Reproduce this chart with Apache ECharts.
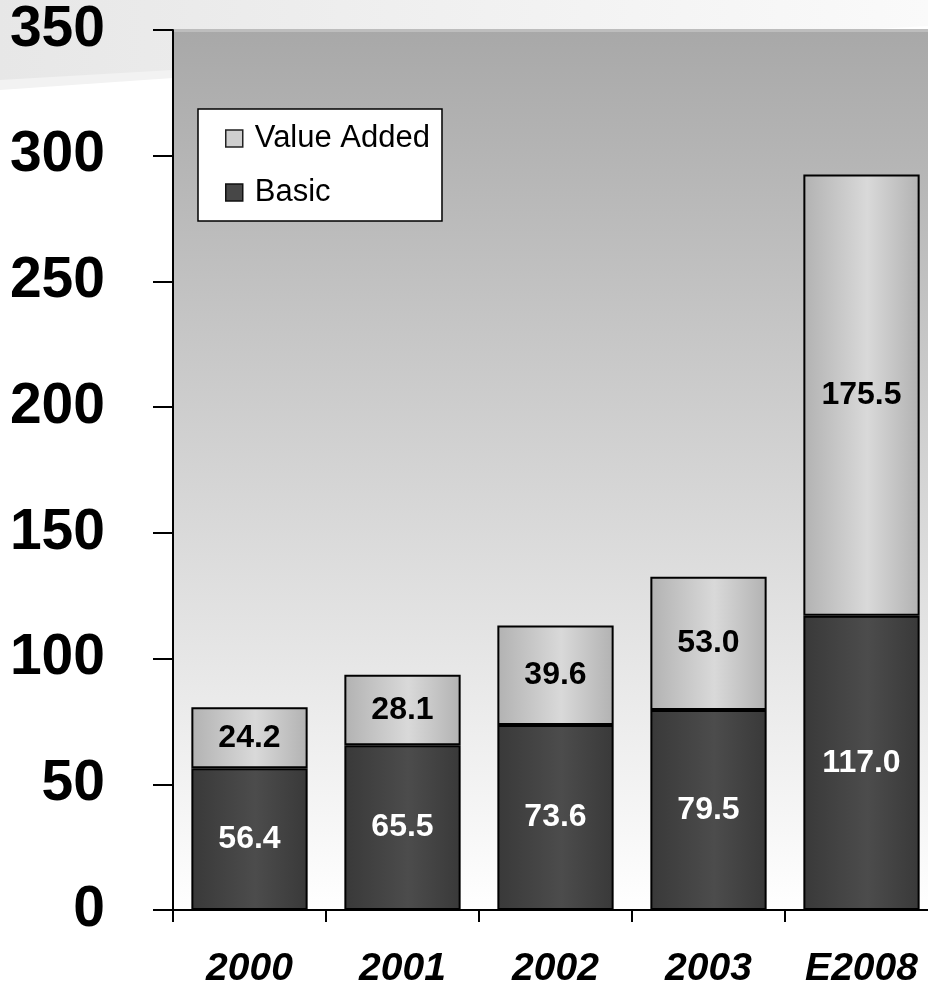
<!DOCTYPE html>
<html>
<head>
<meta charset="utf-8">
<script src="https://cdn.jsdelivr.net/npm/echarts@6/dist/echarts.min.js"></script>
<style>
  html, body { margin: 0; padding: 0; background: #ffffff; }
  #chart { width: 928px; height: 984px; }
</style>
</head>
<body>
<div id="chart"></div>
<script>
// Revenue split by year (stacked): basic vs. value-added
const categories = ['2000', '2001', '2002', '2003', 'E2008'];
const basicValues = [56.4, 65.5, 73.6, 79.5, 117.0];
const valueAddedValues = [24.2, 28.1, 39.6, 53.0, 175.5];
const yTicks = { min: 0, max: 350, interval: 50 };

const FONT = '"Liberation Sans", Arial, Helvetica, sans-serif';

function barGradient(edge, mid) {
  return new echarts.graphic.LinearGradient(0, 0, 1, 0, [
    { offset: 0, color: edge },
    { offset: 0.55, color: mid },
    { offset: 1, color: edge }
  ]);
}

const chart = echarts.init(document.getElementById('chart'), null, { renderer: 'canvas' });

const option = {
  animation: false,
  backgroundColor: '#ffffff',
  graphic: [
    // pale header band sweeping across the top
    {
      type: 'polygon', silent: true, z: -10,
      shape: { points: [[0, 0], [928, 0], [928, 24], [173, 78], [0, 90]] },
      style: { fill: '#f2f2f2' }
    },
    {
      type: 'polygon', silent: true, z: -9,
      shape: { points: [[0, 0], [928, 0], [928, 26], [173, 70], [0, 80]] },
      style: {
        fill: new echarts.graphic.LinearGradient(0, 0, 1, 0, [
          { offset: 0, color: '#e7e7e7' },
          { offset: 1, color: '#fafafa' }
        ])
      }
    },
    // soft highlight along the top edge of the plot
    {
      type: 'rect', silent: true, z: 1,
      shape: { x: 174, y: 29, width: 760, height: 3 },
      style: { fill: '#bdbdbd' }
    }
  ],
  grid: {
    left: 173, top: 30, width: 765, height: 880,
    outerBoundsMode: 'none',
    show: true,
    borderWidth: 0,
    backgroundColor: new echarts.graphic.LinearGradient(0, 0, 0, 1, [
      { offset: 0, color: '#a8a8a8' },
      { offset: 1, color: '#ffffff' }
    ])
  },
  legend: {
    orient: 'vertical',
    left: 198, top: 109,
    padding: [14, 12, 13, 27],
    itemGap: 23,
    itemWidth: 17, itemHeight: 17,
    backgroundColor: '#ffffff',
    borderColor: '#000000', borderWidth: 1.5,
    textStyle: { fontFamily: FONT, fontSize: 31, color: '#000000', padding: [0, 0, 0, 7] },
    data: [
      { name: 'Value Added', icon: 'rect', itemStyle: { color: '#cfcfcf', borderColor: '#222', borderWidth: 1.5 } },
      { name: 'Basic', icon: 'rect', itemStyle: { color: '#474747', borderColor: '#111', borderWidth: 1.5 } }
    ]
  },
  xAxis: {
    type: 'category',
    data: categories,
    boundaryGap: true,
    axisLine: { show: true, lineStyle: { color: '#000000', width: 2 } },
    axisTick: { show: true, length: 12, lineStyle: { color: '#000000', width: 2 } },
    axisLabel: {
      margin: 40,
      fontFamily: FONT, fontSize: 39, fontWeight: 'bold', fontStyle: 'italic', color: '#000000'
    },
    splitLine: { show: false }
  },
  yAxis: {
    type: 'value',
    min: yTicks.min, max: yTicks.max, interval: yTicks.interval,
    axisLine: { show: true, lineStyle: { color: '#000000', width: 2 } },
    axisTick: { show: true, inside: false, length: 20, lineStyle: { color: '#000000', width: 2 } },
    axisLabel: {
      margin: 68,
      fontFamily: FONT, fontSize: 57, fontWeight: 'bold', color: '#000000'
    },
    splitLine: { show: false }
  },
  series: [
    {
      name: 'Basic',
      type: 'bar',
      stack: 'total',
      barWidth: '76%',
      data: basicValues,
      itemStyle: {
        color: barGradient('#393939', '#4c4c4c'),
        borderColor: '#000000', borderWidth: 2
      },
      label: {
        show: true, position: 'inside',
        formatter: p => p.value.toFixed(1),
        fontFamily: FONT, fontSize: 32, fontWeight: 'bold', color: '#ffffff'
      }
    },
    {
      name: 'Value Added',
      type: 'bar',
      stack: 'total',
      barWidth: '76%',
      data: valueAddedValues,
      itemStyle: {
        color: barGradient('#b2b2b2', '#d9d9d9'),
        borderColor: '#000000', borderWidth: 2
      },
      label: {
        show: true, position: 'inside',
        formatter: p => p.value.toFixed(1),
        fontFamily: FONT, fontSize: 32, fontWeight: 'bold', color: '#000000'
      }
    }
  ]
};

chart.setOption(option);
</script>
</body>
</html>
